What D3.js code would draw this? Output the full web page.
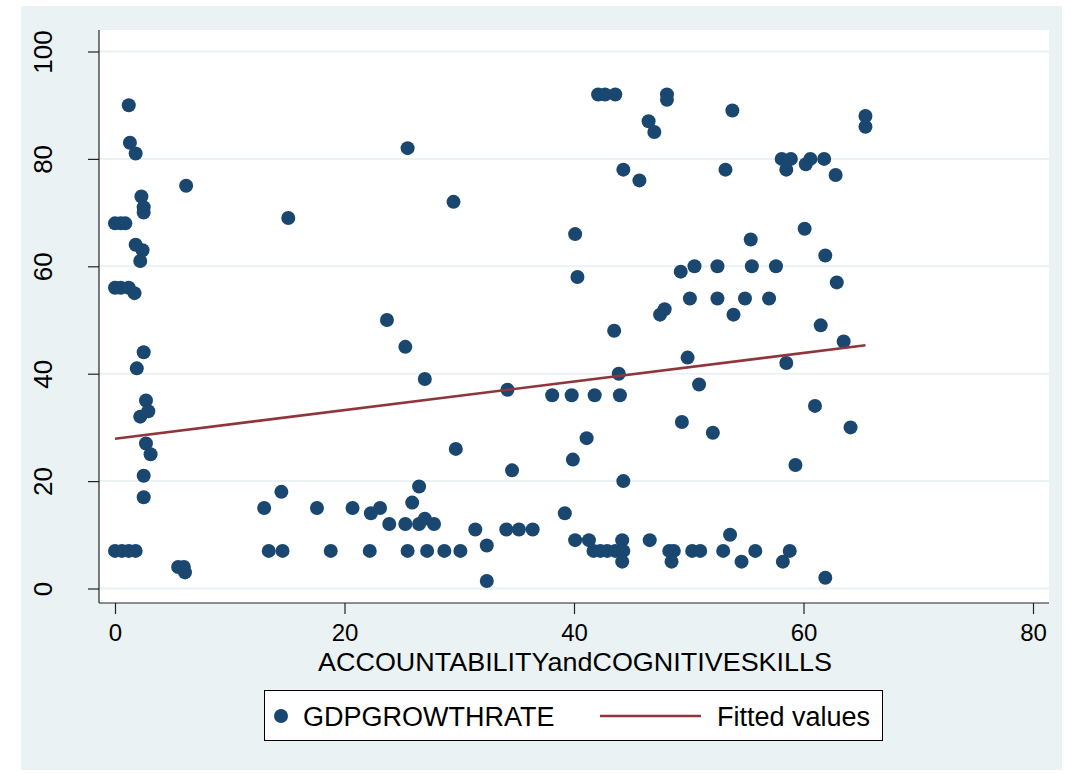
<!DOCTYPE html>
<html>
<head>
<meta charset="utf-8">
<script src="https://cdn.jsdelivr.net/npm/d3@7"></script>
<style>
  html, body { margin: 0; padding: 0; background: #ffffff; }
  svg { display: block; }
  text { font-family: "Liberation Sans", Arial, sans-serif; fill: #000; }
</style>
</head>
<body>
<svg id="chart" width="1070" height="773"></svg>
<script>
// ---- Data ----
const accountability = [
  1.2, 1.3, 1.8, 2.3, 2.5, 2.5, 0, 0.5, 0.9, 6.2, 15.1, 1.8, 2.4, 2.2, 0, 0.5, 1.2, 1.7,
  2.5, 1.9, 2.7, 2.9, 2.2, 2.7, 3.1, 2.5, 2.5, 0, 0.6, 1.2, 1.8, 5.5, 6.0, 6.1,
  13.0, 14.5, 13.4, 14.6,
  25.5, 29.5, 23.7, 25.3, 27.0, 29.7, 26.5, 25.9, 17.6, 20.7, 23.1, 22.3,
  23.9, 25.3, 26.5, 27.8, 27.0, 31.4, 18.8, 22.2, 25.5, 27.2, 28.7, 30.1,
  42.1, 42.7, 43.6, 48.1, 48.1, 46.5, 47.0, 44.3, 45.7, 40.1, 40.3, 49.3, 50.5, 50.1,
  47.9, 47.5, 43.5, 49.9, 43.9, 50.9, 34.2, 38.1, 39.8, 41.8, 44.0, 49.4, 41.1, 39.9,
  34.6, 44.3, 39.2, 34.1, 35.2, 36.4, 32.4, 32.4, 40.1, 41.3, 44.2, 46.6,
  41.7, 42.3, 42.9, 43.6, 44.3, 44.2, 48.3, 48.7, 48.5, 50.3, 51.0,
  53.8, 65.4, 65.4, 53.2, 58.1, 58.9, 58.5, 60.2, 60.6, 61.8, 62.8, 60.1, 55.4,
  52.5, 55.5, 57.6, 61.9, 62.9, 52.5, 54.9, 57.0, 53.9, 61.5, 63.5, 58.5,
  61.0, 64.1, 52.1, 59.3, 53.6, 53.0, 55.8, 58.8, 54.6, 58.2, 61.9
];
const gdpGrowthRate = [
  90, 83, 81, 73, 71, 70, 68, 68, 68, 75, 69, 64, 63, 61, 56, 56, 56, 55,
  44, 41, 35, 33, 32, 27, 25, 21, 17, 7, 7, 7, 7, 4, 4, 3,
  15, 18, 7, 7,
  82, 72, 50, 45, 39, 26, 19, 16, 15, 15, 15, 14,
  12, 12, 12, 12, 13, 11, 7, 7, 7, 7, 7, 7,
  92, 92, 92, 92, 91, 87, 85, 78, 76, 66, 58, 59, 60, 54,
  52, 51, 48, 43, 40, 38, 37, 36, 36, 36, 36, 31, 28, 24,
  22, 20, 14, 11, 11, 11, 8, 1.4, 9, 9, 9, 9,
  7, 7, 7, 7, 7, 5, 7, 7, 5, 7, 7,
  89, 88, 86, 78, 80, 80, 78, 79, 80, 80, 77, 67, 65,
  60, 60, 60, 62, 57, 54, 54, 54, 51, 49, 46, 42,
  34, 30, 29, 23, 10, 7, 7, 7, 5, 5, 2
];
// Fitted values line (endpoints)
const fittedX = [0, 65.4];
const fittedY = [27.9, 45.3];

const xTicks = [0, 20, 40, 60, 80];
const yTicks = [0, 20, 40, 60, 80, 100];
const xTitle = "ACCOUNTABILITYandCOGNITIVESKILLS";
const legendLabels = ["GDPGROWTHRATE", "Fitted values"];

// ---- Drawing ----
const navy = "#1a476f", maroon = "#90353b", bluish = "#eaf2f3";
const svg = d3.select("#chart");

// graph region background
svg.append("rect").attr("x", 21).attr("y", 6).attr("width", 1041).attr("height", 764).attr("fill", bluish);

const plot = { left: 99, right: 1049, top: 30, bottom: 603 };
svg.append("rect").attr("x", plot.left).attr("y", plot.top)
  .attr("width", plot.right - plot.left).attr("height", plot.bottom - plot.top).attr("fill", "#fff");

const x = d3.scaleLinear().domain([0, 80]).range([115, 1033]);
const y = d3.scaleLinear().domain([0, 100]).range([588.5, 51.5]);

// gridlines
svg.append("g").selectAll("line").data(yTicks).join("line")
  .attr("x1", plot.left).attr("x2", plot.right)
  .attr("y1", d => y(d)).attr("y2", d => y(d))
  .attr("stroke", bluish).attr("stroke-width", 2);

// y axis
const yAxis = d3.axisLeft(y).tickValues(yTicks).tickSize(11).tickPadding(0).tickFormat(d3.format("d"));
const gy = svg.append("g").attr("transform", `translate(${plot.left},0)`).call(yAxis);
gy.select(".domain").attr("d", `M0,${plot.top}V${plot.bottom}`).attr("stroke", "#222").attr("stroke-width", 1.2);
gy.selectAll(".tick line").attr("stroke", "#222").attr("stroke-width", 1.2);
gy.selectAll(".tick text").remove();
gy.selectAll(".tick").append("text")
  .attr("transform", "translate(-47,0) rotate(-90)")
  .attr("text-anchor", "middle")
  .attr("font-size", 26)
  .style("font-family", '"Liberation Sans", Arial, sans-serif')
  .attr("fill", "#000")
  .text(d => d);

// x axis
const xAxis = d3.axisBottom(x).tickValues(xTicks).tickSize(11).tickPadding(0).tickFormat(d3.format("d"));
const gx = svg.append("g").attr("transform", `translate(0,${plot.bottom})`).call(xAxis);
gx.select(".domain").attr("d", `M${plot.left},0H${plot.right}`).attr("stroke", "#222").attr("stroke-width", 1.2);
gx.selectAll(".tick line").attr("stroke", "#222").attr("stroke-width", 1.2);
gx.selectAll(".tick text").remove();
gx.selectAll(".tick").append("text")
  .attr("y", 38).attr("text-anchor", "middle")
  .attr("font-size", 24)
  .style("font-family", '"Liberation Sans", Arial, sans-serif')
  .attr("fill", "#000")
  .text(d => d);

svg.append("text").attr("x", (x(0) + x(80)) / 2 + 1).attr("y", 671)
  .attr("text-anchor", "middle").attr("font-size", 26).attr("textLength", 514)
  .attr("lengthAdjust", "spacingAndGlyphs").text(xTitle);

// points
const pts = accountability.map((v, i) => ({ x: v, y: gdpGrowthRate[i] }));
svg.append("g").selectAll("circle").data(pts).join("circle")
  .attr("cx", d => x(d.x)).attr("cy", d => y(d.y)).attr("r", 7)
  .attr("fill", navy);

// fitted line
const line = d3.line().x(d => x(d[0])).y(d => y(d[1]));
svg.append("path").datum(fittedX.map((v, i) => [v, fittedY[i]]))
  .attr("d", line).attr("fill", "none").attr("stroke", maroon).attr("stroke-width", 2.5);

// legend
const lg = svg.append("g");
lg.append("rect").attr("x", 264.5).attr("y", 690.5).attr("width", 618).attr("height", 50)
  .attr("fill", "#fff").attr("stroke", "#000").attr("stroke-width", 1);
lg.append("circle").attr("cx", 281).attr("cy", 716).attr("r", 7).attr("fill", navy);
lg.append("text").attr("x", 303).attr("y", 726).attr("font-size", 27).text(legendLabels[0]);
lg.append("line").attr("x1", 600).attr("x2", 701).attr("y1", 716).attr("y2", 716)
  .attr("stroke", maroon).attr("stroke-width", 2.5);
lg.append("text").attr("x", 717).attr("y", 726).attr("font-size", 27).text(legendLabels[1]);
</script>
</body>
</html>
